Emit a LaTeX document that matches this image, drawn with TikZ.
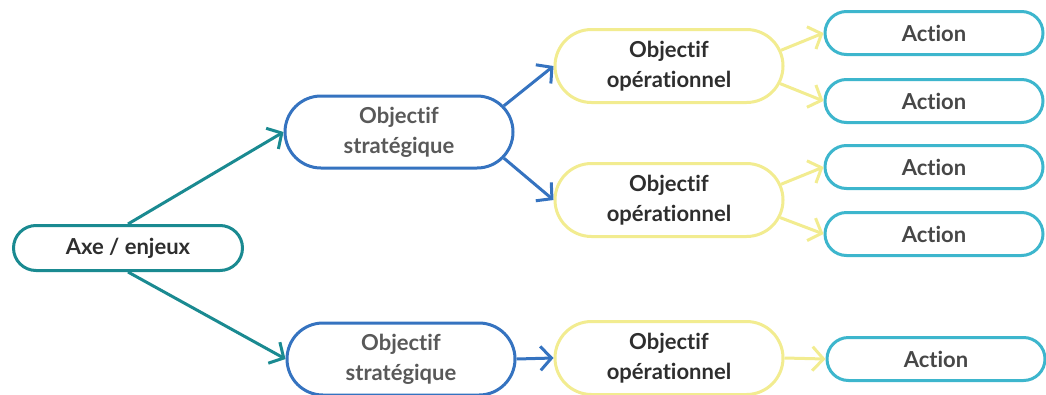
\documentclass[tikz,border=0pt]{standalone}
\usepackage{fontspec}
\setmainfont{Lato}[Ligatures=NoCommon]
\usetikzlibrary{shapes.misc,arrows.meta}

\definecolor{axecol}{HTML}{1A8A91}
\definecolor{stratcol}{HTML}{3573C0}
\definecolor{opcol}{HTML}{F2EC90}
\definecolor{actcol}{HTML}{3DB6CD}

\begin{document}
\begin{tikzpicture}[
        x=1pt, y=-1pt,
        box/.style={
            draw, rounded rectangle, line width=3pt, fill=white,
            font=\fontsize{22}{30}\selectfont\bfseries, align=center,
            text=black!82, inner sep=0pt
        },
        axebox/.style={box, draw=axecol, minimum width=229pt, minimum height=45pt},
        stratbox/.style={box, draw=stratcol, text=black!65, minimum width=228pt, minimum height=72pt},
        opbox/.style={box, draw=opcol, minimum width=228pt, minimum height=73pt},
        actbox/.style={box, draw=actcol, text=black!72, minimum width=218pt, minimum height=43pt},
        link/.style={line width=3pt, -{Straight Barb[length=11pt, width=24pt, line width=3pt]}}
    ]
    \useasboundingbox (0,0) rectangle (1046,394);

    \node[axebox] (axe) at (128, 248) {Axe / enjeux};
    \node[stratbox] (S1) at (399, 132) {Objectif\\stratégique};
    \node[stratbox] (S2) at (401, 359) {Objectif\\stratégique};
    \node[opbox] (O1) at (669, 66) {Objectif\\opérationnel};
    \node[opbox] (O2) at (669, 200) {Objectif\\opérationnel};
    \node[opbox] (O3) at (669, 358) {Objectif\\opérationnel};
    \node[actbox] (A1) at (934, 33) {Action};
    \node[actbox] (A2) at (934, 101) {Action};
    \node[actbox] (A3) at (934, 167) {Action};
    \node[actbox] (A4) at (934, 234) {Action};
    \node[actbox] (A5) at (936, 359) {Action};

    % links
    \draw[link, axecol] (axe.north) -- (S1.west);
    \draw[link, axecol] (axe.south) -- (S2.west);
    \draw[link, stratcol] (S1.14) -- (O1.west);
    \draw[link, stratcol] (S1.-14) -- (O2.west);
    \draw[link, stratcol] (S2.east) -- (O3.west);
    \draw[link, opcol] (O1.8) -- (A1.west);
    \draw[link, opcol] (O1.-9) -- (A2.west);
    \draw[link, opcol] (O2.8) -- (A3.west);
    \draw[link, opcol] (O2.-9) -- (A4.west);
    \draw[link, opcol] (O3.east) -- (A5.west);
\end{tikzpicture}
\end{document}
